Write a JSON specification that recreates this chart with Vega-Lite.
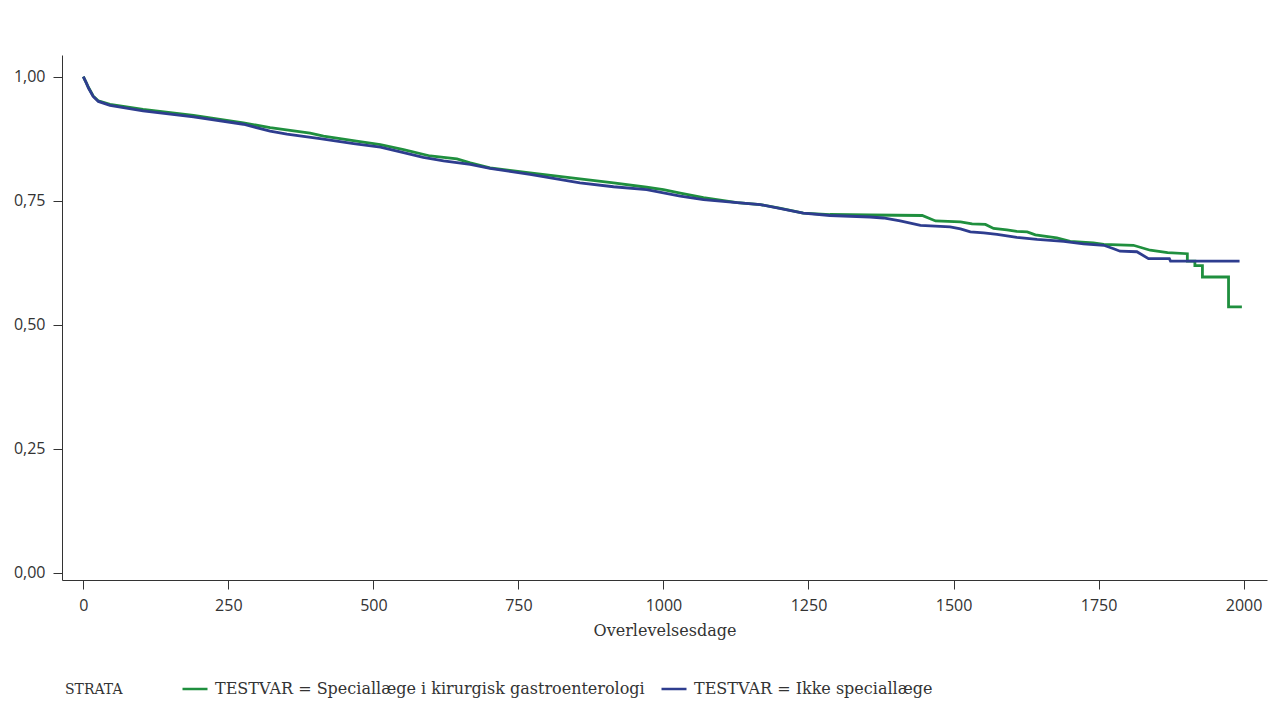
{
  "$schema": "https://vega.github.io/schema/vega-lite/v6.json",
  "autosize": {"type": "none"},
  "padding": {"left": 62, "top": 55, "right": 10, "bottom": 146},
  "width": 1205,
  "height": 525,
  "background": "white",
  "config": {
    "view": {"stroke": null},
    "axis": {"grid": false, "domainColor": "#333333", "tickColor": "#333333", "labelColor": "#333333", "titleColor": "#333333", "labelFont": "Open Sans", "labelFontSize": 16, "titleFont": "DejaVu Serif", "titleFontSize": 16, "titleFontWeight": "normal", "tickSize": 9}
  },
  "datasets": {
    "km": [
      {"g": "TESTVAR = Speciallæge i kirurgisk gastroenterologi", "i": 1, "t": 0, "s": 1.0},
      {"g": "TESTVAR = Speciallæge i kirurgisk gastroenterologi", "i": 2, "t": 5, "s": 0.988},
      {"g": "TESTVAR = Speciallæge i kirurgisk gastroenterologi", "i": 3, "t": 9, "s": 0.978},
      {"g": "TESTVAR = Speciallæge i kirurgisk gastroenterologi", "i": 4, "t": 17, "s": 0.961},
      {"g": "TESTVAR = Speciallæge i kirurgisk gastroenterologi", "i": 5, "t": 26, "s": 0.951},
      {"g": "TESTVAR = Speciallæge i kirurgisk gastroenterologi", "i": 6, "t": 46, "s": 0.944},
      {"g": "TESTVAR = Speciallæge i kirurgisk gastroenterologi", "i": 7, "t": 103, "s": 0.934},
      {"g": "TESTVAR = Speciallæge i kirurgisk gastroenterologi", "i": 8, "t": 190, "s": 0.922},
      {"g": "TESTVAR = Speciallæge i kirurgisk gastroenterologi", "i": 9, "t": 276, "s": 0.907},
      {"g": "TESTVAR = Speciallæge i kirurgisk gastroenterologi", "i": 10, "t": 322, "s": 0.897},
      {"g": "TESTVAR = Speciallæge i kirurgisk gastroenterologi", "i": 11, "t": 391, "s": 0.886},
      {"g": "TESTVAR = Speciallæge i kirurgisk gastroenterologi", "i": 12, "t": 414, "s": 0.88},
      {"g": "TESTVAR = Speciallæge i kirurgisk gastroenterologi", "i": 13, "t": 471, "s": 0.87},
      {"g": "TESTVAR = Speciallæge i kirurgisk gastroenterologi", "i": 14, "t": 512, "s": 0.863},
      {"g": "TESTVAR = Speciallæge i kirurgisk gastroenterologi", "i": 15, "t": 552, "s": 0.853},
      {"g": "TESTVAR = Speciallæge i kirurgisk gastroenterologi", "i": 16, "t": 598, "s": 0.84},
      {"g": "TESTVAR = Speciallæge i kirurgisk gastroenterologi", "i": 17, "t": 644, "s": 0.834},
      {"g": "TESTVAR = Speciallæge i kirurgisk gastroenterologi", "i": 18, "t": 667, "s": 0.826},
      {"g": "TESTVAR = Speciallæge i kirurgisk gastroenterologi", "i": 19, "t": 701, "s": 0.816},
      {"g": "TESTVAR = Speciallæge i kirurgisk gastroenterologi", "i": 20, "t": 770, "s": 0.806},
      {"g": "TESTVAR = Speciallæge i kirurgisk gastroenterologi", "i": 21, "t": 856, "s": 0.794},
      {"g": "TESTVAR = Speciallæge i kirurgisk gastroenterologi", "i": 22, "t": 914, "s": 0.786},
      {"g": "TESTVAR = Speciallæge i kirurgisk gastroenterologi", "i": 23, "t": 971, "s": 0.777},
      {"g": "TESTVAR = Speciallæge i kirurgisk gastroenterologi", "i": 24, "t": 1000, "s": 0.772},
      {"g": "TESTVAR = Speciallæge i kirurgisk gastroenterologi", "i": 25, "t": 1029, "s": 0.765},
      {"g": "TESTVAR = Speciallæge i kirurgisk gastroenterologi", "i": 26, "t": 1069, "s": 0.756},
      {"g": "TESTVAR = Speciallæge i kirurgisk gastroenterologi", "i": 27, "t": 1127, "s": 0.746},
      {"g": "TESTVAR = Speciallæge i kirurgisk gastroenterologi", "i": 28, "t": 1167, "s": 0.742},
      {"g": "TESTVAR = Speciallæge i kirurgisk gastroenterologi", "i": 29, "t": 1200, "s": 0.735},
      {"g": "TESTVAR = Speciallæge i kirurgisk gastroenterologi", "i": 30, "t": 1241, "s": 0.725},
      {"g": "TESTVAR = Speciallæge i kirurgisk gastroenterologi", "i": 31, "t": 1287, "s": 0.722},
      {"g": "TESTVAR = Speciallæge i kirurgisk gastroenterologi", "i": 32, "t": 1356, "s": 0.721},
      {"g": "TESTVAR = Speciallæge i kirurgisk gastroenterologi", "i": 33, "t": 1446, "s": 0.72},
      {"g": "TESTVAR = Speciallæge i kirurgisk gastroenterologi", "i": 34, "t": 1469, "s": 0.709},
      {"g": "TESTVAR = Speciallæge i kirurgisk gastroenterologi", "i": 35, "t": 1512, "s": 0.707},
      {"g": "TESTVAR = Speciallæge i kirurgisk gastroenterologi", "i": 36, "t": 1532, "s": 0.703},
      {"g": "TESTVAR = Speciallæge i kirurgisk gastroenterologi", "i": 37, "t": 1555, "s": 0.702},
      {"g": "TESTVAR = Speciallæge i kirurgisk gastroenterologi", "i": 38, "t": 1569, "s": 0.694},
      {"g": "TESTVAR = Speciallæge i kirurgisk gastroenterologi", "i": 39, "t": 1592, "s": 0.691},
      {"g": "TESTVAR = Speciallæge i kirurgisk gastroenterologi", "i": 40, "t": 1609, "s": 0.688},
      {"g": "TESTVAR = Speciallæge i kirurgisk gastroenterologi", "i": 41, "t": 1627, "s": 0.687},
      {"g": "TESTVAR = Speciallæge i kirurgisk gastroenterologi", "i": 42, "t": 1641, "s": 0.681},
      {"g": "TESTVAR = Speciallæge i kirurgisk gastroenterologi", "i": 43, "t": 1678, "s": 0.675},
      {"g": "TESTVAR = Speciallæge i kirurgisk gastroenterologi", "i": 44, "t": 1701, "s": 0.668},
      {"g": "TESTVAR = Speciallæge i kirurgisk gastroenterologi", "i": 45, "t": 1741, "s": 0.665},
      {"g": "TESTVAR = Speciallæge i kirurgisk gastroenterologi", "i": 46, "t": 1759, "s": 0.662},
      {"g": "TESTVAR = Speciallæge i kirurgisk gastroenterologi", "i": 47, "t": 1810, "s": 0.66},
      {"g": "TESTVAR = Speciallæge i kirurgisk gastroenterologi", "i": 48, "t": 1839, "s": 0.65},
      {"g": "TESTVAR = Speciallæge i kirurgisk gastroenterologi", "i": 49, "t": 1869, "s": 0.645},
      {"g": "TESTVAR = Speciallæge i kirurgisk gastroenterologi", "i": 50, "t": 1903, "s": 0.643},
      {"g": "TESTVAR = Speciallæge i kirurgisk gastroenterologi", "i": 51, "t": 1903, "s": 0.628},
      {"g": "TESTVAR = Speciallæge i kirurgisk gastroenterologi", "i": 52, "t": 1916, "s": 0.628},
      {"g": "TESTVAR = Speciallæge i kirurgisk gastroenterologi", "i": 53, "t": 1916, "s": 0.619},
      {"g": "TESTVAR = Speciallæge i kirurgisk gastroenterologi", "i": 54, "t": 1929, "s": 0.619},
      {"g": "TESTVAR = Speciallæge i kirurgisk gastroenterologi", "i": 55, "t": 1929, "s": 0.596},
      {"g": "TESTVAR = Speciallæge i kirurgisk gastroenterologi", "i": 56, "t": 1974, "s": 0.596},
      {"g": "TESTVAR = Speciallæge i kirurgisk gastroenterologi", "i": 57, "t": 1974, "s": 0.536},
      {"g": "TESTVAR = Speciallæge i kirurgisk gastroenterologi", "i": 58, "t": 1997, "s": 0.536},
      {"g": "TESTVAR = Ikke speciallæge", "i": 1, "t": 0, "s": 1.0},
      {"g": "TESTVAR = Ikke speciallæge", "i": 2, "t": 5, "s": 0.988},
      {"g": "TESTVAR = Ikke speciallæge", "i": 3, "t": 9, "s": 0.977},
      {"g": "TESTVAR = Ikke speciallæge", "i": 4, "t": 17, "s": 0.96},
      {"g": "TESTVAR = Ikke speciallæge", "i": 5, "t": 26, "s": 0.95},
      {"g": "TESTVAR = Ikke speciallæge", "i": 6, "t": 46, "s": 0.942},
      {"g": "TESTVAR = Ikke speciallæge", "i": 7, "t": 103, "s": 0.931},
      {"g": "TESTVAR = Ikke speciallæge", "i": 8, "t": 190, "s": 0.919},
      {"g": "TESTVAR = Ikke speciallæge", "i": 9, "t": 276, "s": 0.904},
      {"g": "TESTVAR = Ikke speciallæge", "i": 10, "t": 322, "s": 0.89},
      {"g": "TESTVAR = Ikke speciallæge", "i": 11, "t": 351, "s": 0.884},
      {"g": "TESTVAR = Ikke speciallæge", "i": 12, "t": 408, "s": 0.875},
      {"g": "TESTVAR = Ikke speciallæge", "i": 13, "t": 466, "s": 0.865},
      {"g": "TESTVAR = Ikke speciallæge", "i": 14, "t": 512, "s": 0.858},
      {"g": "TESTVAR = Ikke speciallæge", "i": 15, "t": 552, "s": 0.847},
      {"g": "TESTVAR = Ikke speciallæge", "i": 16, "t": 586, "s": 0.837},
      {"g": "TESTVAR = Ikke speciallæge", "i": 17, "t": 621, "s": 0.83},
      {"g": "TESTVAR = Ikke speciallæge", "i": 18, "t": 667, "s": 0.823},
      {"g": "TESTVAR = Ikke speciallæge", "i": 19, "t": 701, "s": 0.815},
      {"g": "TESTVAR = Ikke speciallæge", "i": 20, "t": 770, "s": 0.803},
      {"g": "TESTVAR = Ikke speciallæge", "i": 21, "t": 856, "s": 0.786},
      {"g": "TESTVAR = Ikke speciallæge", "i": 22, "t": 914, "s": 0.778},
      {"g": "TESTVAR = Ikke speciallæge", "i": 23, "t": 971, "s": 0.772},
      {"g": "TESTVAR = Ikke speciallæge", "i": 24, "t": 1029, "s": 0.759},
      {"g": "TESTVAR = Ikke speciallæge", "i": 25, "t": 1069, "s": 0.752},
      {"g": "TESTVAR = Ikke speciallæge", "i": 26, "t": 1127, "s": 0.746},
      {"g": "TESTVAR = Ikke speciallæge", "i": 27, "t": 1167, "s": 0.742},
      {"g": "TESTVAR = Ikke speciallæge", "i": 28, "t": 1241, "s": 0.725},
      {"g": "TESTVAR = Ikke speciallæge", "i": 29, "t": 1287, "s": 0.72},
      {"g": "TESTVAR = Ikke speciallæge", "i": 30, "t": 1356, "s": 0.717},
      {"g": "TESTVAR = Ikke speciallæge", "i": 31, "t": 1379, "s": 0.715},
      {"g": "TESTVAR = Ikke speciallæge", "i": 32, "t": 1408, "s": 0.709},
      {"g": "TESTVAR = Ikke speciallæge", "i": 33, "t": 1443, "s": 0.7},
      {"g": "TESTVAR = Ikke speciallæge", "i": 34, "t": 1494, "s": 0.697},
      {"g": "TESTVAR = Ikke speciallæge", "i": 35, "t": 1512, "s": 0.693},
      {"g": "TESTVAR = Ikke speciallæge", "i": 36, "t": 1529, "s": 0.687},
      {"g": "TESTVAR = Ikke speciallæge", "i": 37, "t": 1552, "s": 0.685},
      {"g": "TESTVAR = Ikke speciallæge", "i": 38, "t": 1575, "s": 0.682},
      {"g": "TESTVAR = Ikke speciallæge", "i": 39, "t": 1609, "s": 0.676},
      {"g": "TESTVAR = Ikke speciallæge", "i": 40, "t": 1644, "s": 0.672},
      {"g": "TESTVAR = Ikke speciallæge", "i": 41, "t": 1690, "s": 0.668},
      {"g": "TESTVAR = Ikke speciallæge", "i": 42, "t": 1724, "s": 0.663},
      {"g": "TESTVAR = Ikke speciallæge", "i": 43, "t": 1759, "s": 0.66},
      {"g": "TESTVAR = Ikke speciallæge", "i": 44, "t": 1776, "s": 0.653},
      {"g": "TESTVAR = Ikke speciallæge", "i": 45, "t": 1787, "s": 0.648},
      {"g": "TESTVAR = Ikke speciallæge", "i": 46, "t": 1816, "s": 0.647},
      {"g": "TESTVAR = Ikke speciallæge", "i": 47, "t": 1836, "s": 0.633},
      {"g": "TESTVAR = Ikke speciallæge", "i": 48, "t": 1872, "s": 0.633},
      {"g": "TESTVAR = Ikke speciallæge", "i": 49, "t": 1874, "s": 0.628},
      {"g": "TESTVAR = Ikke speciallæge", "i": 50, "t": 1993, "s": 0.628}
    ]
  },
  "data": {"name": "km"},
  "mark": {"type": "line", "strokeWidth": 2.8, "interpolate": "linear"},
  "encoding": {
    "x": {
      "field": "t", "type": "quantitative",
      "scale": {"domain": [-36.7, 2040.3], "nice": false, "zero": false},
      "axis": {"values": [0, 250, 500, 750, 1000, 1250, 1500, 1750, 2000], "format": "d", "title": "Overlevelsesdage", "labelPadding": 8, "titlePadding": 9}
    },
    "y": {
      "field": "s", "type": "quantitative",
      "scale": {"domain": [-0.0148, 1.0436], "nice": false, "zero": false},
      "axis": {"values": [0, 0.25, 0.5, 0.75, 1], "labelExpr": "replace(format(datum.value, '.2f'), '.', ',')", "title": null, "labelPadding": 8}
    },
    "color": {
      "field": "g", "type": "nominal",
      "scale": {"domain": ["TESTVAR = Speciallæge i kirurgisk gastroenterologi", "TESTVAR = Ikke speciallæge"], "range": ["#1f8f3e", "#2e3d8f"]},
      "legend": {
        "title": "STRATA", "orient": "none", "direction": "horizontal", "legendX": 3, "legendY": 620,
        "titleOrient": "left", "titleBaseline": "line-top", "titleLineHeight": 8, "titlePadding": 58, "titleFont": "DejaVu Serif", "titleFontSize": 14, "titleFontWeight": "normal", "titleColor": "#333333",
        "labelFont": "DejaVu Serif", "labelFontSize": 16, "labelColor": "#333333", "labelLimit": 0,
        "symbolType": "stroke", "symbolSize": 625, "symbolStrokeWidth": 2.5, "labelOffset": 6, "columnPadding": 11
      }
    },
    "order": {"field": "i", "type": "quantitative"}
  }
}
